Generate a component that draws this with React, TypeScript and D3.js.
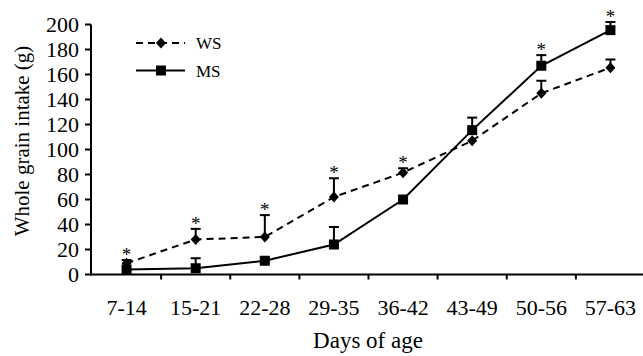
import React from "react";
import * as d3 from "d3";

const categories = ["7-14", "15-21", "22-28", "29-35", "36-42", "43-49", "50-56", "57-63"];
const wsValues = [9, 28, 30, 62, 81.5, 107, 145, 165.5];
const wsErrors = [2.6, 8.5, 17.5, 15, 3.5, 0, 10, 6.5];
const msValues = [4, 5, 11, 24, 60, 115.5, 167, 195.5];
const msErrors = [0, 8, 0, 14, 0, 10, 8.5, 6.5];
const significant = [true, true, true, true, true, false, true, true];
const yTicks = [0, 20, 40, 60, 80, 100, 120, 140, 160, 180, 200];
const seriesNames = ["WS", "MS"];

const FONT = "'Liberation Serif', 'Times New Roman', serif";

export default function App() {
  const W = 643, H = 356;
  const x = d3.scaleBand<string>().domain(categories).range([92, 645]).padding(0);
  const y = d3.scaleLinear().domain([0, 200]).range([274.5, 24.5]);
  const cx = (c: string) => (x(c) as number) + x.bandwidth() / 2;
  const line = d3.line<number>().x((_, i) => cx(categories[i])).y((v) => y(v));
  const axisX = 91;
  const axisY = y(0);

  const errBars = (vals: number[], errs: number[]) =>
    vals.map((v, i) =>
      errs[i] > 0 ? (
        <g key={i}>
          <line x1={cx(categories[i])} x2={cx(categories[i])} y1={y(v)} y2={y(v + errs[i])} stroke="#000" strokeWidth={2} />
          <line x1={cx(categories[i]) - 5} x2={cx(categories[i]) + 5} y1={y(v + errs[i])} y2={y(v + errs[i])} stroke="#000" strokeWidth={2} />
        </g>
      ) : null
    );

  const diamond = (px: number, py: number, key: any) => (
    <path key={key} d={`M${px},${py - 5.5}L${px + 5},${py}L${px},${py + 5.5}L${px - 5},${py}Z`} fill="#000" />
  );
  const square = (px: number, py: number, key: any) => (
    <rect key={key} x={px - 5} y={py - 5} width={10} height={10} fill="#000" />
  );

  return (
    <svg width={W} height={H} style={{ position: "absolute", left: 0, top: 0, background: "#fff" }}>
      {/* axes */}
      <line x1={axisX} x2={axisX} y1={y(200)} y2={axisY + 1} stroke="#000" strokeWidth={2} />
      <line x1={axisX - 1} x2={W} y1={axisY} y2={axisY} stroke="#000" strokeWidth={2} />
      {yTicks.map((t) => (
        <g key={t}>
          <line x1={axisX - 6} x2={axisX} y1={y(t)} y2={y(t)} stroke="#000" strokeWidth={2} />
          <text x={79} y={y(t)} dy="0.35em" textAnchor="end" fontFamily={FONT} fontSize={22}>{t}</text>
        </g>
      ))}
      {categories.map((c, i) => (
        <g key={c}>
          {i > 0 && <line x1={x(c) as number} x2={x(c) as number} y1={axisY} y2={axisY + 5} stroke="#000" strokeWidth={2} />}
          <text x={cx(c)} y={315} textAnchor="middle" fontFamily={FONT} fontSize={22}>{c}</text>
        </g>
      ))}
      <text x={368} y={348} textAnchor="middle" fontFamily={FONT} fontSize={23}>Days of age</text>
      <text transform={`translate(29,${141}) rotate(-90)`} textAnchor="middle" fontFamily={FONT} fontSize={21}>Whole grain intake (g)</text>

      {/* error bars */}
      {errBars(wsValues, wsErrors)}
      {errBars(msValues, msErrors)}

      {/* lines */}
      <path d={line(wsValues) || ""} fill="none" stroke="#000" strokeWidth={2} strokeDasharray="7,5" />
      <path d={line(msValues) || ""} fill="none" stroke="#000" strokeWidth={2} />
      {wsValues.map((v, i) => diamond(cx(categories[i]), y(v), "d" + i))}
      {msValues.map((v, i) => square(cx(categories[i]), y(v), "s" + i))}

      {/* significance stars */}
      {categories.map((c, i) =>
        significant[i] ? (
          <text key={"st" + i} x={cx(c)} y={y(Math.max(wsValues[i] + wsErrors[i], msValues[i] + msErrors[i])) + 1}
            textAnchor="middle" fontFamily={FONT} fontSize={19}>*</text>
        ) : null
      )}

      {/* legend */}
      <line x1={136} x2={185} y1={43} y2={43} stroke="#000" strokeWidth={2} strokeDasharray="7,5" />
      {diamond(161, 43, "ld")}
      <text x={196} y={49} fontFamily={FONT} fontSize={17}>{seriesNames[0]}</text>
      <line x1={136} x2={185} y1={70.5} y2={70.5} stroke="#000" strokeWidth={2} />
      {square(161, 70.5, "ls")}
      <text x={196} y={77} fontFamily={FONT} fontSize={17}>{seriesNames[1]}</text>
    </svg>
  );
}
